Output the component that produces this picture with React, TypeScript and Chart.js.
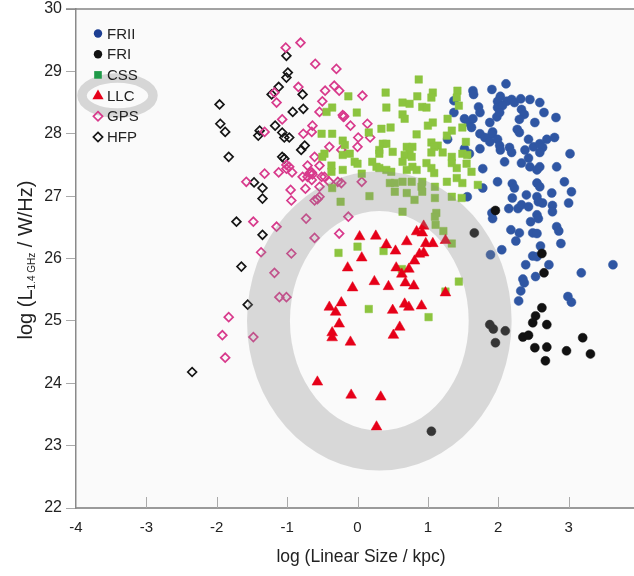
import React, { useEffect, useRef } from "react";
import { Chart, registerables } from "chart.js";

Chart.register(...registerables);

// ---- axis ranges / ticks ----
const xRange = [-4, 4];
const yRange = [22, 30];
const xTitle = "log (Linear Size / kpc)";
const yTitleParts = ["log (L", "1.4 GHz", " / W/Hz)"];

// ---- legend ----
const legendNames = ["FRII", "FRI", "CSS", "LLC", "GPS", "HFP"];

// ---- ring annotation (data units) ----
const ringCenter = [0.31, 25.0];
const ringOuter = [1.88, 2.4];
const ringInner = [1.27, 1.76];

// ---- data: [log size, log L] ----
const FRII: number[][] = [
  [2.11, 28.8], [1.91, 28.71], [1.64, 28.69], [1.65, 28.63], [2.03, 28.6], [1.99, 28.52], [2.12, 28.52],
  [2.19, 28.55], [2.23, 28.5], [2.32, 28.56], [2.45, 28.55], [2.59, 28.5], [1.99, 28.42], [2.06, 28.45],
  [1.72, 28.43], [1.74, 28.34], [1.37, 28.53], [1.37, 28.34], [2.33, 28.39], [2.37, 28.31], [2.65, 28.34],
  [2.82, 28.26], [1.98, 28.27], [2.02, 28.34], [1.52, 28.24], [1.58, 28.18], [1.62, 28.1], [1.88, 28.18],
  [1.92, 28.03], [1.91, 27.99], [2.3, 28.23], [2.52, 28.18], [2.27, 28.07], [2.3, 28.02], [1.74, 28.0],
  [1.81, 27.94], [1.88, 27.87], [1.99, 27.91], [2.02, 27.81], [2.43, 27.91], [2.5, 27.79], [2.69, 27.91],
  [2.8, 27.94], [2.59, 27.84], [2.63, 27.78], [2.38, 27.74], [2.43, 27.61], [1.74, 27.76], [2.03, 27.74],
  [2.16, 27.78], [2.19, 27.7], [2.59, 27.7], [3.02, 27.68], [2.09, 27.55], [2.33, 27.53], [2.45, 27.47],
  [2.55, 27.42], [2.59, 27.47], [2.83, 27.47], [1.78, 27.44], [1.99, 27.23], [2.2, 27.2], [2.23, 27.13],
  [2.55, 27.21], [2.59, 27.15], [2.94, 27.23], [3.04, 27.07], [1.56, 26.99], [1.78, 27.13], [2.2, 26.97],
  [2.4, 27.02], [2.55, 26.99], [2.76, 27.05], [1.28, 27.91], [1.52, 27.76], [1.59, 27.68], [1.64, 28.24],
  [2.63, 26.89], [2.57, 26.91], [2.77, 26.85], [2.77, 26.75], [3.0, 26.89], [1.91, 26.73], [1.92, 26.64],
  [2.15, 26.8], [2.28, 26.8], [2.33, 26.86], [2.43, 26.83], [2.55, 26.7], [2.57, 26.64], [2.46, 26.59],
  [2.18, 26.46], [2.3, 26.41], [2.25, 26.28], [2.49, 26.41], [2.55, 26.4], [2.83, 26.51], [2.86, 26.44],
  [2.89, 26.24], [2.6, 26.2], [2.05, 26.14], [2.49, 26.04], [2.55, 26.03], [2.39, 25.9], [2.72, 25.9],
  [2.53, 25.71], [2.35, 25.67], [2.37, 25.61], [2.32, 25.48], [2.29, 25.32], [2.99, 25.39], [3.04, 25.3],
  [3.18, 25.77], [3.63, 25.9], [1.89, 26.06],
];

const FRI: number[][] = [
  [1.96, 26.77], [1.66, 26.41], [2.62, 26.08], [2.65, 25.77], [2.62, 25.21], [2.53, 25.08], [2.49, 24.97],
  [2.69, 24.94], [1.88, 24.94], [1.93, 24.87], [2.1, 24.84], [1.96, 24.65], [2.35, 24.74], [2.43, 24.77],
  [3.2, 24.73], [2.52, 24.57], [2.69, 24.58], [2.97, 24.52], [3.31, 24.47], [2.67, 24.36], [1.05, 23.23],
];

const CSS: number[][] = [
  [0.87, 28.87], [0.4, 28.66], [-0.13, 28.6], [0.41, 28.42], [-0.01, 28.34], [-0.36, 28.42], [-0.44, 28.35],
  [0.85, 28.6], [0.64, 28.5], [0.74, 28.48], [0.92, 28.43], [0.98, 28.42], [1.07, 28.66], [1.05, 28.58],
  [1.42, 28.69], [1.41, 28.58], [1.44, 28.45], [0.64, 28.31], [0.67, 28.24], [1.28, 28.24], [1.07, 28.18],
  [1.0, 28.13], [1.49, 28.1], [0.34, 28.08], [0.47, 28.1], [0.16, 28.02], [0.84, 27.99], [-0.51, 28.0],
  [-0.36, 28.0], [-0.21, 27.89], [-0.18, 27.82], [1.27, 27.97], [1.34, 28.05], [1.54, 27.87], [1.14, 27.81],
  [0.36, 27.84], [0.41, 27.84], [0.7, 27.79], [0.78, 27.79], [0.74, 27.71], [1.05, 27.86], [1.09, 27.79],
  [-0.47, 27.68], [-0.5, 27.63], [-0.21, 27.66], [-0.11, 27.68], [0.31, 27.74], [0.31, 27.68], [0.5, 27.71],
  [0.67, 27.66], [0.77, 27.63], [1.05, 27.7], [1.21, 27.7], [1.34, 27.63], [1.49, 27.68], [1.56, 27.66],
  [-0.04, 27.55], [0.0, 27.52], [-0.37, 27.49], [-0.37, 27.39], [-0.21, 27.42], [0.21, 27.55], [0.27, 27.47],
  [0.41, 27.42], [0.48, 27.39], [0.64, 27.55], [0.78, 27.47], [0.84, 27.42], [0.7, 27.42], [0.98, 27.53],
  [1.05, 27.45], [1.09, 27.37], [1.34, 27.53], [1.41, 27.45], [1.55, 27.52], [1.62, 27.39], [0.06, 27.36],
  [0.31, 27.45], [0.46, 27.21], [0.53, 27.21], [0.64, 27.23], [0.77, 27.23], [0.92, 27.23], [1.1, 27.15],
  [1.27, 27.23], [1.41, 27.29], [1.49, 27.21], [1.71, 27.18], [-0.36, 27.13], [0.17, 27.0], [0.53, 27.07],
  [0.7, 27.05], [0.81, 26.94], [0.91, 27.15], [0.92, 27.07], [1.1, 26.97], [1.34, 26.99], [1.48, 26.97],
  [-0.24, 26.91], [0.64, 26.75], [1.12, 26.73], [1.1, 26.67], [1.11, 26.54], [1.22, 26.44], [1.34, 26.24],
  [0.0, 26.19], [-0.27, 26.09], [0.37, 26.12], [1.44, 25.63], [0.63, 25.83], [0.16, 25.19], [1.01, 25.06],
  [1.25, 25.47],
];

const LLC: number[][] = [
  [0.03, 26.35], [0.26, 26.36], [0.41, 26.22], [0.7, 26.27], [0.54, 26.12], [0.84, 26.43], [0.94, 26.52],
  [0.92, 26.41], [0.97, 26.24], [1.07, 26.24], [1.25, 26.29], [0.06, 26.01], [-0.14, 25.85], [0.55, 25.85],
  [0.63, 25.75], [0.73, 25.83], [0.81, 25.96], [0.88, 26.07], [0.94, 26.09], [0.24, 25.63], [0.44, 25.55],
  [0.68, 25.61], [0.8, 25.56], [-0.07, 25.53], [1.25, 25.45], [-0.4, 25.22], [-0.31, 25.14], [-0.23, 25.29],
  [0.5, 25.17], [0.67, 25.27], [0.73, 25.22], [0.91, 25.24], [-0.26, 24.95], [-0.36, 24.81], [-0.36, 24.73],
  [-0.1, 24.66], [0.51, 24.77], [0.6, 24.9], [-0.57, 24.02], [-0.09, 23.81], [0.33, 23.78], [0.27, 23.3],
];

const GPS: number[][] = [
  [-1.02, 29.38], [-0.81, 29.46], [-0.6, 29.12], [-0.3, 29.04], [-0.84, 28.75], [-1.18, 28.66], [-1.15, 28.5],
  [-0.46, 28.69], [-0.33, 28.77], [-0.26, 28.69], [0.07, 28.61], [-0.5, 28.52], [-0.54, 28.35], [-0.21, 28.3],
  [-0.2, 28.27], [-0.19, 28.28], [-1.07, 28.23], [-0.1, 28.13], [0.14, 28.16], [-1.32, 28.03], [-0.77, 28.0],
  [-0.64, 28.13], [-0.65, 28.03], [0.01, 27.94], [0.18, 27.94], [-0.4, 27.79], [0.0, 27.79], [-0.23, 27.74],
  [-0.61, 27.63], [-1.01, 27.5], [-0.71, 27.49], [-0.54, 27.49], [-0.97, 27.47], [-1.01, 27.44], [-0.93, 27.38],
  [-1.12, 27.38], [-1.32, 27.36], [-0.65, 27.38], [-0.64, 27.35], [-0.78, 27.31], [-0.71, 27.31], [-0.51, 27.31],
  [-0.47, 27.31], [-0.68, 27.37], [-0.65, 27.26], [-0.28, 27.23], [-0.23, 27.21], [-0.4, 27.23], [0.06, 27.23],
  [-0.54, 27.15], [-1.58, 27.23], [-0.95, 27.1], [-0.74, 27.12], [-0.94, 26.93], [-0.54, 26.99], [-0.61, 26.93],
  [-0.57, 26.95], [-1.48, 26.59], [-1.15, 26.51], [-0.73, 26.64], [-0.13, 26.67], [-0.26, 26.4], [-1.37, 26.1],
  [-0.94, 26.08], [-0.61, 26.33], [-1.18, 25.77], [-1.11, 25.38], [-1.01, 25.38], [-1.83, 25.06], [-1.92, 24.77],
  [-1.48, 24.74], [-1.88, 24.41],
];

const HFP: number[][] = [
  [-1.96, 28.47], [-1.95, 28.16], [-1.88, 28.03], [-1.83, 27.63], [-1.47, 27.22], [-1.35, 27.13], [-1.35, 26.96],
  [-1.72, 26.59], [-1.35, 26.38], [-1.65, 25.87], [-1.01, 29.25], [-0.99, 28.98], [-1.01, 28.9], [-1.12, 28.75],
  [-1.22, 28.63], [-0.78, 28.63], [-0.92, 28.35], [-0.77, 28.4], [-1.39, 28.05], [-1.41, 27.97], [-1.17, 28.13],
  [-1.07, 28.02], [-1.04, 27.94], [-0.97, 27.94], [-0.75, 27.81], [-0.8, 27.74], [-1.07, 27.63], [-1.04, 27.6],
  [-1.56, 25.26], [-2.35, 24.18],
];

const toPts = (arr: number[][]) => arr.map(([x, y]) => ({ x, y }));

const COLORS = {
  FRII: "#2f56a3",
  FRI: "#111111",
  CSS: "#8cc43f",
  LLC: "#e60019",
  GPS: "#d83a8c",
  HFP: "#151515",
};

const FONT = "'Liberation Sans', Arial, sans-serif";

function drawMarker(ctx: CanvasRenderingContext2D, kind: string, x: number, y: number) {
  ctx.save();
  ctx.beginPath();
  if (kind === "FRII" || kind === "FRI") {
    ctx.fillStyle = kind === "FRII" ? "#1d3f93" : "#111";
    ctx.arc(x, y, 4.2, 0, Math.PI * 2);
    ctx.fill();
  } else if (kind === "CSS") {
    ctx.fillStyle = "#1f9a48";
    ctx.fillRect(x - 3.8, y - 3.8, 7.6, 7.6);
  } else if (kind === "LLC") {
    ctx.fillStyle = "#e60019";
    ctx.moveTo(x, y - 6);
    ctx.lineTo(x + 5.6, y + 3.6);
    ctx.lineTo(x - 5.6, y + 3.6);
    ctx.closePath();
    ctx.fill();
  } else {
    ctx.strokeStyle = kind === "GPS" ? "#d83a8c" : "#151515";
    ctx.lineWidth = 1.7;
    ctx.moveTo(x, y - 4.6);
    ctx.lineTo(x + 4.6, y);
    ctx.lineTo(x, y + 4.6);
    ctx.lineTo(x - 4.6, y);
    ctx.closePath();
    ctx.stroke();
  }
  ctx.restore();
}

const decorPlugin = {
  id: "decor",
  beforeDraw(chart: any) {
    const { ctx, chartArea: a } = chart;
    ctx.save();
    ctx.fillStyle = "#ffffff";
    ctx.fillRect(0, 0, chart.width, chart.height);
    ctx.fillStyle = "#fafafa";
    ctx.fillRect(a.left, a.top, a.right - a.left, a.bottom - a.top);
    ctx.restore();
  },
  afterDatasetsDraw(chart: any) {
    const { ctx, chartArea: a } = chart;
    const xs = chart.scales.x;
    const ys = chart.scales.y;
    // big ring (overlay)
    const cx = xs.getPixelForValue(ringCenter[0]);
    const cy = ys.getPixelForValue(ringCenter[1]);
    const orx = xs.getPixelForValue(ringCenter[0] + ringOuter[0]) - cx;
    const ory = cy - ys.getPixelForValue(ringCenter[1] + ringOuter[1]);
    const irx = xs.getPixelForValue(ringCenter[0] + ringInner[0]) - cx;
    const iry = cy - ys.getPixelForValue(ringCenter[1] + ringInner[1]);
    ctx.save();
    ctx.beginPath();
    ctx.ellipse(cx, cy, orx, ory, 0, 0, Math.PI * 2);
    ctx.moveTo(cx + irx, cy);
    ctx.ellipse(cx, cy, irx, iry, 0, 0, Math.PI * 2);
    ctx.fillStyle = "rgba(140,140,140,0.3)";
    ctx.fill("evenodd");
    ctx.restore();

    // top frame line
    ctx.save();
    ctx.strokeStyle = "#858585";
    ctx.lineWidth = 1.5;
    ctx.beginPath();
    ctx.moveTo(a.left - 10, a.top);
    ctx.lineTo(chart.width, a.top);
    ctx.stroke();
    // inward x ticks
    ctx.strokeStyle = "#aaaaaa";
    ctx.lineWidth = 1;
    for (let v = xRange[0] + 1; v <= xRange[1]; v++) {
      const px = Math.round(xs.getPixelForValue(v)) + 0.5;
      ctx.beginPath();
      ctx.moveTo(px, a.bottom);
      ctx.lineTo(px, a.bottom - 11);
      ctx.stroke();
    }
    ctx.restore();

    // legend ring
    const lx = a.left;
    const rowY = (i: number) => a.top + 24.5 + i * 20.7;
    ctx.save();
    ctx.beginPath();
    ctx.ellipse(lx + 41.5, rowY(3), 35.5, 17.5, 0, 0, Math.PI * 2);
    ctx.strokeStyle = "#d6d6d6";
    ctx.lineWidth = 9.5;
    ctx.stroke();
    ctx.restore();

    // legend
    ctx.save();
    ctx.font = "15px " + FONT;
    ctx.textBaseline = "middle";
    ctx.textAlign = "left";
    legendNames.forEach((n, i) => {
      drawMarker(ctx, n, lx + 22, rowY(i));
      ctx.fillStyle = "#222";
      ctx.fillText(n, lx + 31, rowY(i) + 1);
    });
    ctx.restore();
  },
  afterDraw(chart: any) {
    const { ctx } = chart;
    ctx.save();
    ctx.fillStyle = "#222";
    // x title
    ctx.font = "17.5px " + FONT;
    ctx.textAlign = "center";
    ctx.textBaseline = "alphabetic";
    ctx.fillText(xTitle, 361, 562);
    // y title with subscript
    const big = "20px " + FONT;
    const small = "10px " + FONT;
    ctx.font = big;
    const w1 = ctx.measureText(yTitleParts[0]).width;
    const w3 = ctx.measureText(yTitleParts[2]).width;
    ctx.font = small;
    const w2 = ctx.measureText(yTitleParts[1]).width;
    const total = w1 + w2 + w3;
    ctx.translate(32, 260);
    ctx.rotate(-Math.PI / 2);
    ctx.textAlign = "left";
    let x0 = -total / 2;
    ctx.font = big;
    ctx.fillText(yTitleParts[0], x0, 0);
    x0 += w1;
    ctx.font = small;
    ctx.fillText(yTitleParts[1], x0, 3);
    x0 += w2;
    ctx.font = big;
    ctx.fillText(yTitleParts[2], x0, 0);
    ctx.restore();
  },
};

export default function App() {
  const ref = useRef<HTMLCanvasElement | null>(null);
  useEffect(() => {
    if (!ref.current) return;
    const mk = (label: string, data: number[][], style: string, radius: number, filled: boolean) => {
      const c = (COLORS as any)[label];
      return {
        label,
        data: toPts(data),
        pointStyle: style,
        pointRadius: radius,
        pointHoverRadius: radius,
        backgroundColor: filled ? c : "rgba(0,0,0,0)",
        borderColor: c,
        borderWidth: filled ? 0.5 : 1.7,
        showLine: false,
      };
    };
    const chart = new Chart(ref.current, {
      type: "scatter",
      data: {
        datasets: [
          mk("LLC", LLC, "triangle", 6.2, true),
          mk("CSS", CSS, "rect", 5.3, true),
          mk("FRI", FRI, "circle", 4.5, true),
          mk("FRII", FRII, "circle", 4.5, true),
          mk("GPS", GPS, "rectRot", 4.4, false),
          mk("HFP", HFP, "rectRot", 4.4, false),
        ],
      },
      options: {
        responsive: false,
        devicePixelRatio: 1,
        animation: false,
        layout: { padding: { left: 0, right: 10, top: 9, bottom: 0 } },
        plugins: { legend: { display: false }, tooltip: { enabled: false } },
        scales: {
          x: {
            type: "linear",
            min: xRange[0],
            max: xRange[1],
            afterFit: (s: any) => {
              s.height = 68;
              s.paddingLeft = 0;
              s.paddingRight = 0;
            },
            ticks: {
              stepSize: 1,
              autoSkip: false,
              padding: 11,
              color: "#222",
              font: { family: FONT, size: 15 },
            },
            grid: { display: true, drawOnChartArea: false, drawTicks: false },
            border: { display: true, color: "#9a9a9a", width: 2 },
          },
          y: {
            type: "linear",
            min: yRange[0],
            max: yRange[1],
            afterFit: (s: any) => {
              s.width = 76;
              s.paddingTop = 0;
              s.paddingBottom = 0;
            },
            ticks: {
              stepSize: 1,
              padding: 4,
              color: "#222",
              font: { family: FONT, size: 16 },
            },
            grid: {
              display: true,
              drawOnChartArea: false,
              drawTicks: true,
              tickLength: 10,
              tickColor: "#aaaaaa",
            },
            border: { display: true, color: "#8a8a8a", width: 1.5 },
          },
        },
      },
      plugins: [decorPlugin],
    } as any);
    return () => chart.destroy();
  }, []);
  return (
    <div
      style={{
        position: "absolute",
        left: 0,
        top: 0,
        width: 634,
        height: 576,
        overflow: "hidden",
        background: "#fff",
      }}
    >
      <canvas ref={ref} width={649} height={576} style={{ display: "block", width: 649, height: 576 }} />
    </div>
  );
}
